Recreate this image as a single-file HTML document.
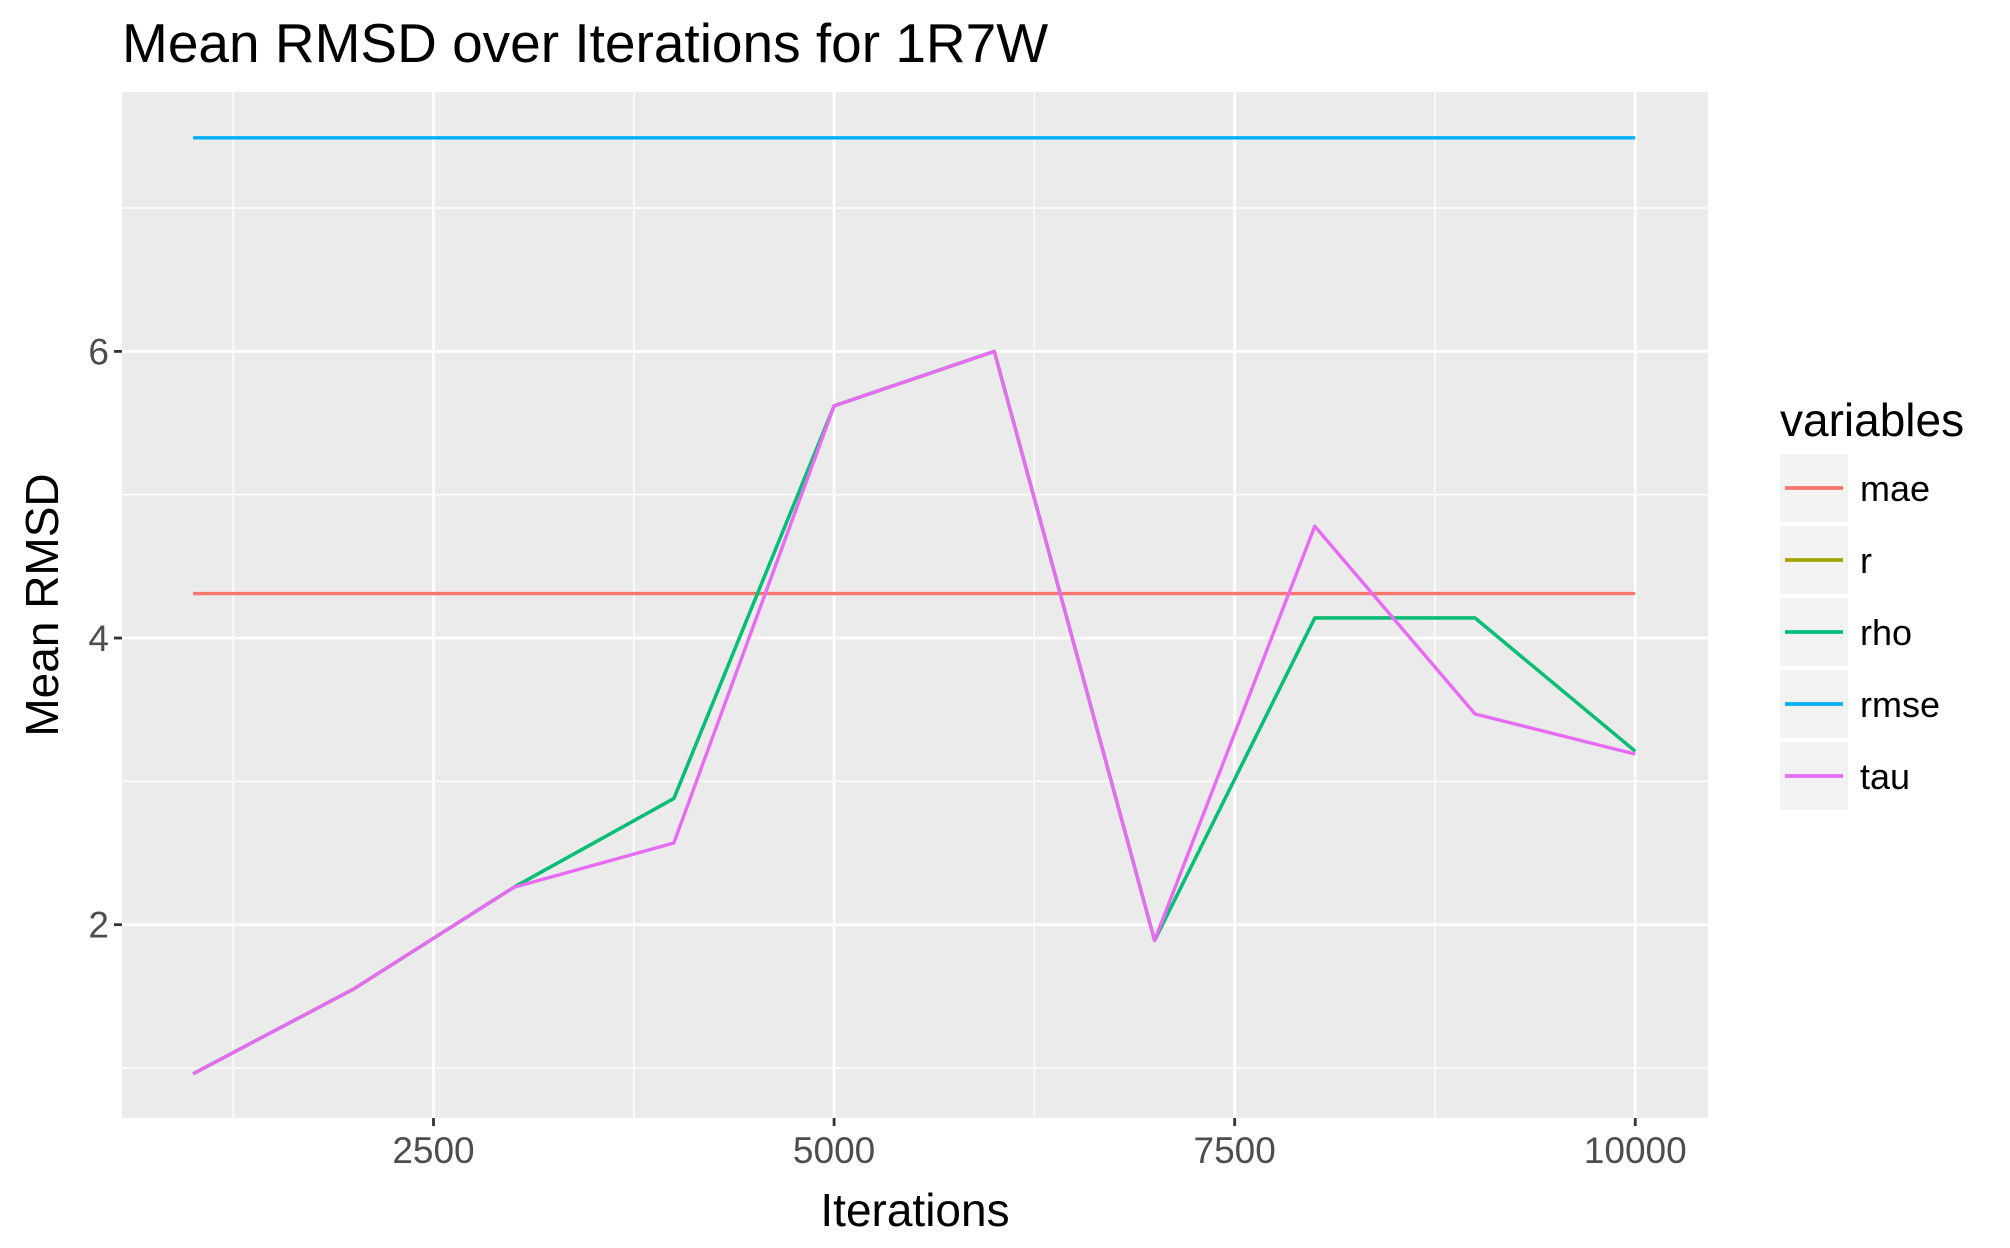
<!DOCTYPE html>
<html><head><meta charset="utf-8"><style>
body{margin:0;background:#fff}
svg{display:block;font-family:"Liberation Sans",Arial,sans-serif}
</style></head><body>
<svg id="chart" width="2010" height="1248" viewBox="0 0 2010 1248">
<rect x="0" y="0" width="2010" height="1248" fill="#fff"/>
<text x="122" y="62" font-size="55" fill="#000">Mean RMSD over Iterations for 1R7W</text>
<rect x="122" y="92" width="1586" height="1026" fill="#ebebeb"/>
<g id="grid"></g><g id="series"></g><g id="axes"></g>
<text x="915" y="1226" font-size="46" text-anchor="middle">Iterations</text>
<text transform="translate(58,605) rotate(-90)" font-size="46" text-anchor="middle">Mean RMSD</text>
<g id="legend">
<text x="1780" y="436" font-size="46">variables</text>
</g>
</svg>
<script>
const iterations=[1000,2000,3000,4000,5000,6000,7000,8000,9000,10000];
const maeVals=[4.31,4.31,4.31,4.31,4.31,4.31,4.31,4.31,4.31,4.31];
const rVals=[0.96,1.55,2.26,2.88,5.62,6.0,1.89,4.14,4.14,3.21];
const rhoVals=[0.96,1.55,2.26,2.88,5.62,6.0,1.89,4.14,4.14,3.21];
const rmseVals=[7.49,7.49,7.49,7.49,7.49,7.49,7.49,7.49,7.49,7.49];
const tauVals=[0.96,1.55,2.26,2.57,5.62,6.0,1.89,4.78,3.47,3.19];
const seriesNames=["mae","r","rho","rmse","tau"];
const seriesColors=["#F8766D","#A3A500","#00BF7D","#00B0F6","#E76BF3"];
const xTicks=[2500,5000,7500,10000];
const xMinor=[1250,3750,6250,8750];
const yTicks=[2,4,6];
const yMinor=[1,3,5,7];
const X0=122,X1=1708,Y0=92,Y1=1118,xmin=556,xmax=10454,ymin=0.651,ymax=7.81;
const sx=v=>X0+(v-xmin)/(xmax-xmin)*(X1-X0);
const sy=v=>Y1-(v-ymin)/(ymax-ymin)*(Y1-Y0);
const NS="http://www.w3.org/2000/svg";
function mk(tag,attrs,parent){const e=document.createElementNS(NS,tag);for(const k in attrs)e.setAttribute(k,attrs[k]);parent.appendChild(e);return e;}
const grid=document.getElementById('grid'),axes=document.getElementById('axes'),ser=document.getElementById('series'),leg=document.getElementById('legend');
yMinor.forEach(v=>{const l=mk('line',{x1:X0,x2:X1,y1:sy(v),y2:sy(v),stroke:'#fff','stroke-width':1.4},grid);

});
xMinor.forEach(v=>{const l=mk('line',{x1:sx(v),x2:sx(v),y1:Y0,y2:Y1,stroke:'#fff','stroke-width':1.4},grid);

});
yTicks.forEach(v=>{const l=mk('line',{x1:X0,x2:X1,y1:sy(v),y2:sy(v),stroke:'#fff','stroke-width':2.8},grid);


const t=mk('line',{x1:X0-8,x2:X0,y1:sy(v),y2:sy(v),stroke:'#333','stroke-width':2.8},axes);


const tx=mk('text',{x:X0-13,y:sy(v)+13,'font-size':37,'text-anchor':'end',fill:'#4d4d4d'},axes);tx.textContent=v;

});
xTicks.forEach(v=>{const l=mk('line',{x1:sx(v),x2:sx(v),y1:Y0,y2:Y1,stroke:'#fff','stroke-width':2.8},grid);


const t=mk('line',{x1:sx(v),x2:sx(v),y1:Y1,y2:Y1+8,stroke:'#333','stroke-width':2.8},axes);


const tx=mk('text',{x:sx(v),y:Y1+45,'font-size':37,'text-anchor':'middle',fill:'#4d4d4d'},axes);tx.textContent=v;

});
const allVals=[maeVals,rVals,rhoVals,rmseVals,tauVals];
allVals.forEach((vals,i)=>{const p=mk('polyline',{points:iterations.map((x,j)=>sx(x)+','+sy(vals[j])).join(' '),fill:'none',stroke:seriesColors[i],'stroke-width':3.4,'stroke-linejoin':'round'},ser);


const y=454+i*72;
const g=mk('g',{},leg);


mk('rect',{x:1780,y:y,width:68,height:68,fill:'#f2f2f2'},g);
mk('line',{x1:1785,x2:1843,y1:y+34,y2:y+34,stroke:seriesColors[i],'stroke-width':3.8},g);
const t=mk('text',{x:1860,y:y+47,'font-size':36},g);t.textContent=seriesNames[i];});
</script>
</body></html>
